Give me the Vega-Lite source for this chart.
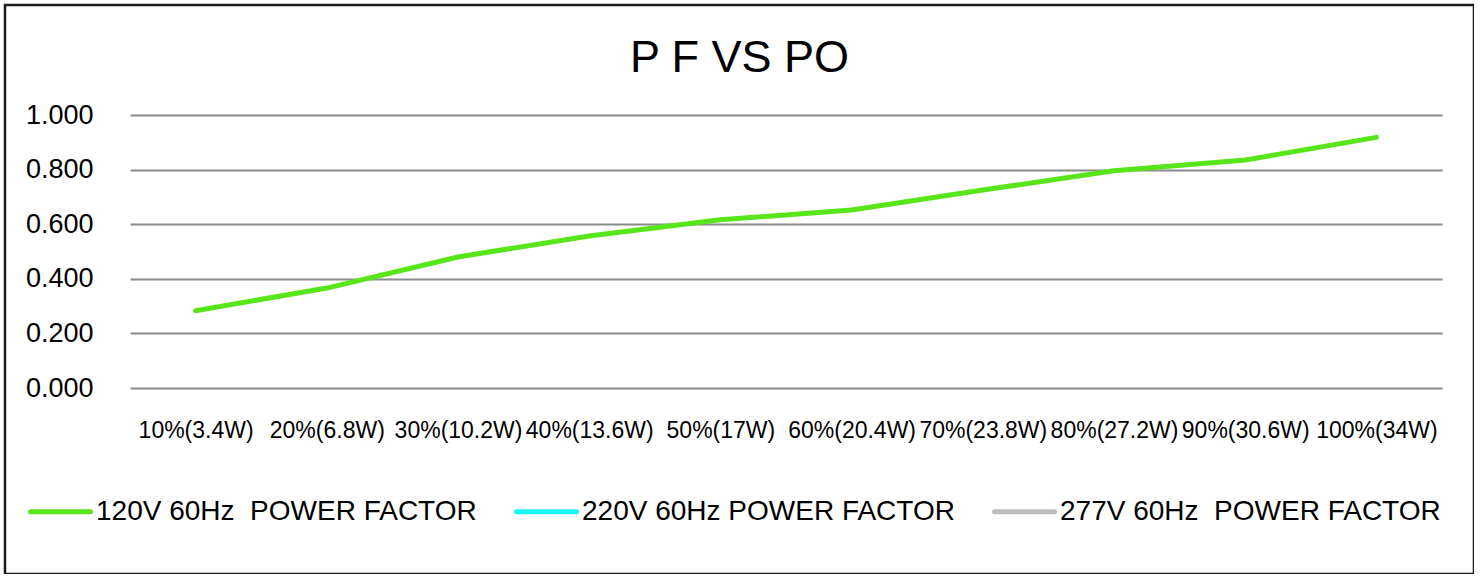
{
  "$schema": "https://vega.github.io/schema/vega-lite/v6.json",
  "width": 1469,
  "height": 569,
  "autosize": "none",
  "padding": {"left": 5, "top": 5, "right": 0, "bottom": 0},
  "background": "#ffffff",
  "title": {
    "text": "P F VS PO",
    "font": "Liberation Sans",
    "fontSize": 45,
    "fontWeight": "normal",
    "color": "#000000",
    "anchor": "middle",
    "frame": "group",
    "baseline": "alphabetic",
    "offset": -112
  },
  "config": {
    "view": {"stroke": "#1a1a1a", "strokeWidth": 2.5},
    "axis": {"labelFont": "Liberation Sans", "labelColor": "#000000"}
  },
  "data": {
    "values": [
      {"load": "10%(3.4W)", "series": "120V 60Hz\u00a0 POWER FACTOR", "pf": 0.283},
      {"load": "20%(6.8W)", "series": "120V 60Hz\u00a0 POWER FACTOR", "pf": 0.366},
      {"load": "30%(10.2W)", "series": "120V 60Hz\u00a0 POWER FACTOR", "pf": 0.480},
      {"load": "40%(13.6W)", "series": "120V 60Hz\u00a0 POWER FACTOR", "pf": 0.557},
      {"load": "50%(17W)", "series": "120V 60Hz\u00a0 POWER FACTOR", "pf": 0.616},
      {"load": "60%(20.4W)", "series": "120V 60Hz\u00a0 POWER FACTOR", "pf": 0.652},
      {"load": "70%(23.8W)", "series": "120V 60Hz\u00a0 POWER FACTOR", "pf": 0.725},
      {"load": "80%(27.2W)", "series": "120V 60Hz\u00a0 POWER FACTOR", "pf": 0.796},
      {"load": "90%(30.6W)", "series": "120V 60Hz\u00a0 POWER FACTOR", "pf": 0.835},
      {"load": "100%(34W)", "series": "120V 60Hz\u00a0 POWER FACTOR", "pf": 0.918}
    ]
  },
  "mark": {"type": "line", "strokeWidth": 5, "strokeCap": "round", "strokeJoin": "round"},
  "encoding": {
    "x": {
      "field": "load",
      "type": "ordinal",
      "sort": null,
      "scale": {"type": "point", "range": [125, 1437], "padding": 0.5},
      "axis": {
        "title": null,
        "orient": "bottom",
        "offset": -186,
        "domain": false,
        "ticks": false,
        "tickSize": 0,
        "labelPadding": 31,
        "labelAngle": 0,
        "labelFontSize": 23,
        "labelOverlap": false,
        "labelBound": false,
        "grid": false
      }
    },
    "y": {
      "field": "pf",
      "type": "quantitative",
      "scale": {"domain": [0, 1], "range": [383, 110], "nice": false, "zero": true},
      "axis": {
        "title": null,
        "orient": "left",
        "offset": -93,
        "values": [0, 0.2, 0.4, 0.6, 0.8, 1.0],
        "format": ".3f",
        "domain": false,
        "ticks": false,
        "tickSize": 0,
        "labelPadding": 5,
        "labelFontSize": 27,
        "grid": true,
        "gridColor": "#8a8a8a",
        "gridWidth": 2,
        "gridOpacity": 1
      }
    },
    "color": {
      "field": "series",
      "type": "nominal",
      "scale": {
        "domain": ["120V 60Hz\u00a0 POWER FACTOR", "220V 60Hz POWER FACTOR", "277V 60Hz\u00a0 POWER FACTOR"],
        "range": ["#58e61a", "#1cf4fb", "#bdbdbd"]
      },
      "legend": {
        "title": null,
        "orient": "none",
        "direction": "horizontal",
        "legendX": 23,
        "legendY": 474,
        "symbolType": "stroke",
        "symbolSize": 3600,
        "symbolStrokeWidth": 5,
        "labelOffset": 3,
        "labelFont": "Liberation Sans",
        "labelFontSize": 28,
        "labelColor": "#000000",
        "labelLimit": 0,
        "columnPadding": 29,
        "encode": {"symbols": {"update": {"strokeCap": {"value": "round"}}}}
      }
    }
  }
}
